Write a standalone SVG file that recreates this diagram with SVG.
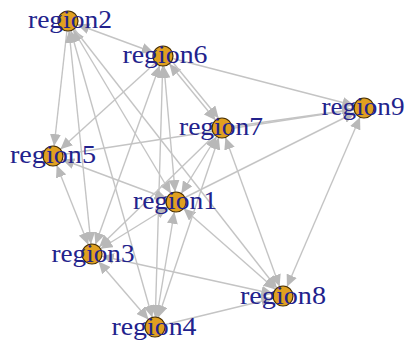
<svg xmlns="http://www.w3.org/2000/svg" width="406" height="346" viewBox="0 0 406 346">
  <style>
    .edge { stroke: #c4c4c4; stroke-width: 1.4; fill: none; }
    .one { marker-end: url(#arrow); }
    .two { marker-start: url(#arrow); marker-end: url(#arrow); }
    .node circle { fill: #e0a020; stroke: #4a3000; stroke-width: 1.2; }
    .node text { font-family: "Liberation Serif", "Times New Roman", serif; font-size: 25px; fill: #22228c; text-anchor: middle; }
  </style>
  <defs>
    <!-- arrowhead tip sits on the rim of a radius-10 vertex -->
    <marker id="arrow" markerUnits="userSpaceOnUse" markerWidth="24" markerHeight="11" refX="22" refY="5.5" orient="auto-start-reverse">
      <path d="M0,0 L12,5.5 L0,11 z" fill="#b8b8b8"/>
    </marker>
  </defs>
  <rect width="406" height="346" fill="#ffffff"/>

  <g id="edges">
    <line class="edge one" x1="68" y1="21" x2="53" y2="156"/>
    <line class="edge two" x1="68" y1="21" x2="92" y2="254"/>
    <line class="edge two" x1="68" y1="21" x2="155" y2="327"/>
    <line class="edge two" x1="68" y1="21" x2="176" y2="202"/>
    <line class="edge two" x1="68" y1="21" x2="163" y2="56"/>
    <line class="edge one" x1="68" y1="21" x2="283" y2="296"/>
    <line class="edge two" x1="163" y1="56" x2="222" y2="128"/>
    <line class="edge one" x1="166" y1="54" x2="225" y2="126"/>
    <line class="edge one" x1="163" y1="56" x2="364" y2="108"/>
    <line class="edge one" x1="163" y1="56" x2="53" y2="156"/>
    <line class="edge two" x1="163" y1="56" x2="176" y2="202"/>
    <line class="edge two" x1="163" y1="56" x2="92" y2="254"/>
    <line class="edge two" x1="163" y1="56" x2="155" y2="327"/>
    <line class="edge one" x1="222" y1="128" x2="364" y2="108"/>
    <line class="edge one" x1="53" y1="156" x2="364" y2="108"/>
    <line class="edge two" x1="53" y1="156" x2="176" y2="202"/>
    <line class="edge two" x1="53" y1="156" x2="92" y2="254"/>
    <line class="edge one" x1="176" y1="202" x2="364" y2="108"/>
    <line class="edge two" x1="176" y1="202" x2="283" y2="296"/>
    <line class="edge two" x1="176" y1="202" x2="92" y2="254"/>
    <line class="edge two" x1="176" y1="202" x2="155" y2="327"/>
    <line class="edge two" x1="222" y1="128" x2="176" y2="202"/>
    <line class="edge two" x1="222" y1="128" x2="155" y2="327"/>
    <line class="edge two" x1="222" y1="128" x2="283" y2="296"/>
    <line class="edge one" x1="222" y1="128" x2="92" y2="254"/>
    <line class="edge two" x1="364" y1="108" x2="283" y2="296"/>
    <line class="edge two" x1="92" y1="254" x2="283" y2="296"/>
    <line class="edge one" x1="155" y1="327" x2="283" y2="296"/>
    <line class="edge two" x1="92" y1="254" x2="155" y2="327"/>
  </g>

  <g id="region2" class="node"><circle cx="68" cy="21" r="10"/><text x="70" y="28" textLength="84" lengthAdjust="spacingAndGlyphs">region2</text></g>
  <g id="region6" class="node"><circle cx="163" cy="56" r="10"/><text x="165" y="63" textLength="85" lengthAdjust="spacingAndGlyphs">region6</text></g>
  <g id="region7" class="node"><circle cx="222" cy="128" r="10"/><text x="221" y="135" textLength="84" lengthAdjust="spacingAndGlyphs">region7</text></g>
  <g id="region9" class="node"><circle cx="364" cy="108" r="10"/><text x="363" y="115" textLength="83" lengthAdjust="spacingAndGlyphs">region9</text></g>
  <g id="region5" class="node"><circle cx="53" cy="156" r="10"/><text x="53" y="163" textLength="86" lengthAdjust="spacingAndGlyphs">region5</text></g>
  <g id="region1" class="node"><circle cx="176" cy="202" r="10"/><text x="175" y="209" textLength="84" lengthAdjust="spacingAndGlyphs">region1</text></g>
  <g id="region3" class="node"><circle cx="92" cy="254" r="10"/><text x="93" y="262" textLength="83" lengthAdjust="spacingAndGlyphs">region3</text></g>
  <g id="region4" class="node"><circle cx="155" cy="327" r="10"/><text x="154" y="335" textLength="85" lengthAdjust="spacingAndGlyphs">region4</text></g>
  <g id="region8" class="node"><circle cx="283" cy="296" r="10"/><text x="283" y="304" textLength="86" lengthAdjust="spacingAndGlyphs">region8</text></g>
</svg>
